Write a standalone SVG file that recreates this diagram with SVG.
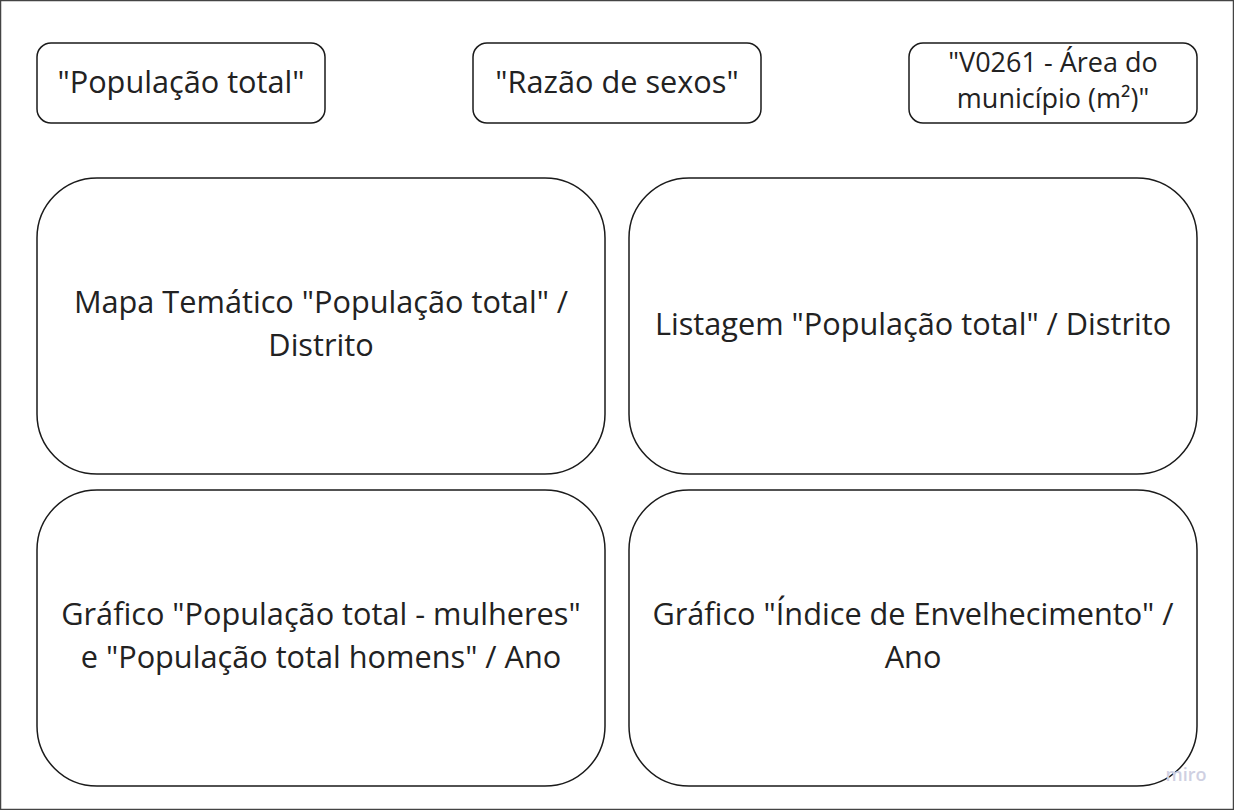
<svg xmlns="http://www.w3.org/2000/svg" width="1234" height="810" viewBox="0 0 1234 810">
<style>
.b{fill:#fff;stroke:#1a1a1a;stroke-width:1.5}
.t{font-family:"Open Sans","Noto Sans",sans-serif;fill:#222;text-anchor:middle}
.s{font-size:30.7px}
.m{font-size:27px}
</style>
<rect x="0.5" y="0.5" width="1233" height="809" fill="#fff" stroke="#444" stroke-width="1.5"/>
<g id="n1"><rect class="b" x="37" y="43" width="288" height="80" rx="14"/><text class="t s" x="181" y="93">"População total"</text></g>
<g id="n2"><rect class="b" x="473" y="43" width="288" height="80" rx="14"/><text class="t s" x="617" y="93">"Razão de sexos"</text></g>
<g id="n3"><rect class="b" x="909" y="43" width="288" height="80" rx="14"/><text class="t m" x="1053" y="72">"V0261 - Área do</text><text class="t m" x="1053" y="108">município (m²)"</text></g>
<g id="n4"><rect class="b" x="37" y="178" width="568" height="296" rx="60"/><text class="t s" x="321" y="313">Mapa Temático "População total" /</text><text class="t s" x="321" y="356">Distrito</text></g>
<g id="n5"><rect class="b" x="629" y="178" width="568" height="296" rx="60"/><text class="t s" x="913" y="335">Listagem "População total" / Distrito</text></g>
<g id="n6"><rect class="b" x="37" y="490" width="568" height="296" rx="60"/><text class="t s" x="321" y="625">Gráfico "População total - mulheres"</text><text class="t s" x="321" y="668">e "População total homens" / Ano</text></g>
<g id="n7"><rect class="b" x="629" y="490" width="568" height="296" rx="60"/><text class="t s" x="913" y="625">Gráfico "Índice de Envelhecimento" /</text><text class="t s" x="913" y="668">Ano</text></g>
<g id="connectors"></g>
<text x="1186" y="781" font-family="Open Sans,sans-serif" font-size="18" font-weight="600" fill="#cfd0e2" text-anchor="middle">miro</text>
</svg>
